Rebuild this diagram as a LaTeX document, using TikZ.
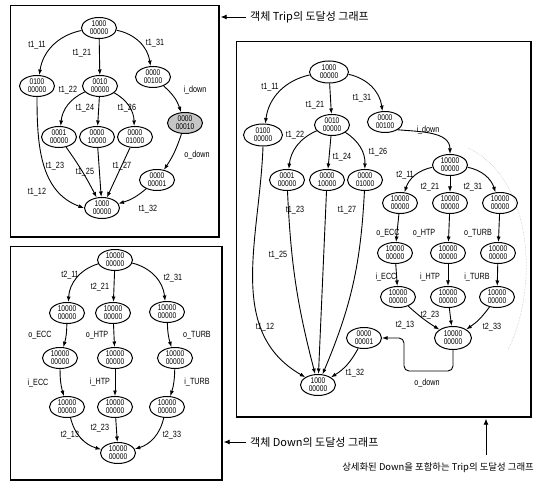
\documentclass[tikz,border=0pt]{standalone}
\usepackage{fontspec}
\setmainfont{Liberation Sans}[FakeStretch=0.8]
\newfontfamily\korfont{Noto Sans CJK KR}
\usetikzlibrary{shapes.geometric,arrows.meta}
\begin{document}
\begin{tikzpicture}[x=1pt,y=-1pt,
  st/.style={ellipse,draw,line width=1pt,inner sep=0pt,minimum width=35pt,
             minimum height=21pt,align=center,font=\fontsize{8.3}{8}\selectfont},
  big/.style={minimum width=39pt,minimum height=22pt},
  arr/.style={-{Latex[length=5.5pt,width=4pt]},line width=0.9pt},
  lb/.style={inner sep=0pt,font=\fontsize{9}{9}\selectfont},
  frame/.style={draw,line width=0.7pt,inner sep=0pt,anchor=north west},
  shadowedge/.style={line width=2.2pt},
  kor/.style={inner sep=0pt,font=\korfont\fontsize{11}{12}\selectfont},
  korsmall/.style={inner sep=0pt,font=\korfont\fontsize{9.4}{10}\selectfont},
  pointer/.style={-{Latex[length=6pt,width=5pt]},line width=0.9pt}
]
\useasboundingbox (0,0) rectangle (539,484);

% ---------- frames ----------
\node[frame,minimum width=208pt,minimum height=231pt] (f1) at (10,5) {};
\node[frame,minimum width=211pt,minimum height=233pt] (f2) at (10,246) {};
\node[frame,minimum width=294pt,minimum height=375pt] (f3) at (236,41) {};
\draw[shadowedge] (f1.north east) -- (f1.south east) -- (f1.south west);
\draw[shadowedge] (f2.north east) -- (f2.south east) -- (f2.south west);
\draw[shadowedge] (f3.north east) -- (f3.south east) -- (f3.south west);

% ---------- reachability graph of Trip ----------
\node[st] (a1) at (99,28) {1000\\00000};
\node[st] (a2) at (37,86) {0100\\00000};
\node[st] (a3) at (100,86) {0010\\00000};
\node[st] (a4) at (153,77) {0000\\00100};
\node[st,fill=gray!45] (a5) at (185,123) {0000\\00010};
\node[st] (a6) at (59,137) {0001\\00000};
\node[st] (a7) at (97,137) {0000\\10000};
\node[st] (a8) at (135,137) {0000\\01000};
\node[st] (a9) at (157,180) {0000\\00001};
\node[st] (a10) at (102,208) {1000\\00000};

\draw[arr] (a1) to[bend right=35] (a2);
\draw[arr] (a1) -- (a3);
\draw[arr] (a1) to[bend left=35] (a4);
\draw[arr] (a3) to[bend right=30] (a6);
\draw[arr] (a3) -- (a7);
\draw[arr] (a3) to[bend left=30] (a8);
\draw[arr] (a4) to[bend left=15] (a5);
\draw[arr] (a5) to[bend left=8] (a9);
\draw[arr] (a2.south) to[out=-90,in=160] (a10.west);
\draw[arr] (a6) to[bend left=4] (a10);
\draw[arr] (a7) -- (a10);
\draw[arr] (a8) -- (a10);
\draw[arr] (a9) to[bend left=12] (a10);

\node[lb] (la1) at (37,45) {t1\_11};
\node[lb] (la2) at (82,53) {t1\_21};
\node[lb] (la3) at (155,43) {t1\_31};
\node[lb] (la4) at (195,90) {i\_down};
\node[lb] (la5) at (68,90) {t1\_22};
\node[lb] (la6) at (85,108) {t1\_24};
\node[lb] (la7) at (127,108) {t1\_26};
\node[lb] (la8) at (197,155) {o\_down};
\node[lb] (la9) at (55,166) {t1\_23};
\node[lb] (la10) at (85,172) {t1\_25};
\node[lb] (la11) at (122,166) {t1\_27};
\node[lb] (la12) at (37,192) {t1\_12};
\node[lb] (la13) at (148,209) {t1\_32};

% ---------- reachability graph of Down ----------
\node[st] (b1) at (115,260) {10000\\00000};
\node[st] (b2) at (67,313) {10000\\00000};
\node[st] (b3) at (113,313) {10000\\00000};
\node[st] (b4) at (167,312) {10000\\00000};
\node[st] (b5) at (60,358) {10000\\00000};
\node[st] (b6) at (115,358) {10000\\00000};
\node[st] (b7) at (175,358) {10000\\00000};
\node[st] (b8) at (67,407) {10000\\00000};
\node[st] (b9) at (115,407) {10000\\00000};
\node[st] (b10) at (167,407) {10000\\00000};
\node[st] (b11) at (118,453) {10000\\00000};

\draw[arr] (b1) to[bend right=35] (b2);
\draw[arr] (b1) -- (b3);
\draw[arr] (b1) to[bend left=35] (b4);
\draw[arr] (b2) to[bend left=8] (b5);
\draw[arr] (b3) -- (b6);
\draw[arr] (b4) to[bend right=8] (b7);
\draw[arr] (b5) to[bend right=8] (b8);
\draw[arr] (b6) -- (b9);
\draw[arr] (b7) to[bend left=8] (b10);
\draw[arr] (b8) to[bend right=30] (b11);
\draw[arr] (b9) -- (b11);
\draw[arr] (b10) to[bend left=30] (b11);

\node[lb] (lb1) at (70,275) {t2\_11};
\node[lb] (lb2) at (100,287) {t2\_21};
\node[lb] (lb3) at (173,278) {t2\_31};
\node[lb] (lb4) at (40,335) {o\_ECC};
\node[lb] (lb5) at (97,335) {o\_HTP};
\node[lb] (lb6) at (197,335) {o\_TURB};
\node[lb] (lb7) at (38,383) {i\_ECC};
\node[lb] (lb8) at (100,382) {i\_HTP};
\node[lb] (lb9) at (197,382) {i\_TURB};
\node[lb] (lb10) at (70,435) {t2\_13};
\node[lb] (lb11) at (100,428) {t2\_23};
\node[lb] (lb12) at (172,435) {t2\_33};

% ---------- Trip with Down refined ----------
\draw[gray!55,densely dotted,line width=0.5pt]
  (468,148) .. controls (535,180) and (538,290) .. (508,350);

\node[st,big] (c1) at (329,72) {1000\\00000};
\node[st,big] (c2) at (263,135) {0100\\00000};
\node[st] (c3) at (332,125) {0010\\00000};
\node[st] (c4) at (385,122) {0000\\00100};
\node[st] (c5) at (450,165) {10000\\00000};
\node[st] (c6) at (287,180) {0001\\00000};
\node[st] (c7) at (327,180) {0000\\10000};
\node[st] (c8) at (365,180) {0000\\01000};
\node[st] (d1) at (400,203) {10000\\00000};
\node[st] (d2) at (450,203) {10000\\00000};
\node[st] (d3) at (500,203) {10000\\00000};
\node[st] (d4) at (395,253) {10000\\00000};
\node[st] (d5) at (448,253) {10000\\00000};
\node[st] (d6) at (498,253) {10000\\00000};
\node[st] (d7) at (398,297) {10000\\00000};
\node[st] (d8) at (448,297) {10000\\00000};
\node[st] (d9) at (497,297) {10000\\00000};
\node[st,minimum width=37pt,minimum height=23pt] (dm) at (453,338) {10000\\00000};
\node[st] (c9) at (364,338) {0000\\00001};
\node[st] (c10) at (318,385) {1000\\00000};

\draw[arr] (c1) to[bend right=35] (c2);
\draw[arr] (c1) -- (c3);
\draw[arr] (c1) to[bend left=35] (c4);
\draw[arr] (c3) to[bend right=30] (c6);
\draw[arr] (c3) -- (c7);
\draw[arr] (c3) to[bend left=30] (c8);
\draw[arr] (c4.south east) to[out=-5,in=90] (c5.north);
\draw[arr] (c5) to[bend right=30] (d1);
\draw[arr] (c5) -- (d2);
\draw[arr] (c5) to[bend left=30] (d3);
\draw[arr] (d1) -- (d4);
\draw[arr] (d2) -- (d5);
\draw[arr] (d3) -- (d6);
\draw[arr] (d4) -- (d7);
\draw[arr] (d5) -- (d8);
\draw[arr] (d6) -- (d9);
\draw[arr] (d7) to[bend right=5] (dm);
\draw[arr] (d8) -- (dm);
\draw[arr] (d9) to[bend left=10] (dm);
\draw[arr,rounded corners=5pt] (dm.south) -- ++(0,21) -| ([xshift=22pt]c9.east) -- (c9.east);
\draw[arr] (c2.south) to[out=-92,in=150] (c10.north west);
\draw[arr] (c6) to[bend right=6] (c10);
\draw[arr] (c7) -- (c10);
\draw[arr] (c8) to[bend left=10] (c10);
\draw[arr] (c9) to[bend left=15] (c10);

\node[lb] (lc1) at (270,87) {t1\_11};
\node[lb] (lc2) at (315,105) {t1\_21};
\node[lb] (lc3) at (362,98) {t1\_31};
\node[lb] (lc4) at (428,130) {i\_down};
\node[lb] (lc5) at (295,135) {t1\_22};
\node[lb] (lc6) at (342,157) {t1\_24};
\node[lb] (lc7) at (378,152) {t1\_26};
\node[lb] (lc8) at (405,175) {t2\_11};
\node[lb] (lc9) at (430,187) {t2\_21};
\node[lb] (lc10) at (473,187) {t2\_31};
\node[lb] (lc11) at (295,210) {t1\_23};
\node[lb] (lc12) at (347,210) {t1\_27};
\node[lb] (lc13) at (278,255) {t1\_25};
\node[lb] (lc14) at (388,233) {o\_ECC};
\node[lb] (lc15) at (424,233) {o\_HTP};
\node[lb] (lc16) at (478,233) {o\_TURB};
\node[lb] (lc17) at (386,277) {i\_ECC};
\node[lb] (lc18) at (430,277) {i\_HTP};
\node[lb] (lc19) at (477,277) {i\_TURB};
\node[lb] (lc20) at (405,325) {t2\_13};
\node[lb] (lc21) at (430,315) {t2\_23};
\node[lb] (lc22) at (492,327) {t2\_33};
\node[lb] (lc23) at (265,327) {t1\_12};
\node[lb] (lc24) at (355,373) {t1\_32};
\node[lb] (lc25) at (427,383) {o\_down};

% ---------- captions ----------
\node[kor,anchor=west] (k1) at (250,17) {객체 Trip의 도달성 그래프};
\node[kor,anchor=west] (k2) at (250,442) {객체 Down의 도달성 그래프};
\node[korsmall,anchor=east] (k3) at (534,468) {상세화된 Down을 포함하는 Trip의 도달성 그래프};
\draw[pointer] ([xshift=-4pt]k1.west) -- ([xshift=2pt]k1.west -| f1.east);
\draw[pointer] ([xshift=-4pt]k2.west) -- ([xshift=2pt]k2.west -| f2.east);
\coordinate (up) at (486,455);
\draw[pointer] (up) -- ([yshift=-2pt]up |- f3.south);
\end{tikzpicture}
\end{document}
